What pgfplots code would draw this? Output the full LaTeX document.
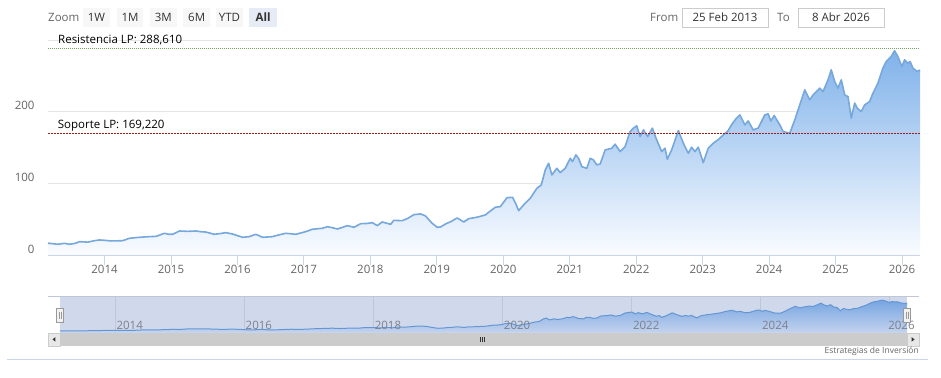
\documentclass[border=0pt]{standalone}
\usepackage{pgfplots}
\pgfplotsset{compat=1.18}
\usepackage{pgfplotstable}
\usepackage{fontspec}
\setmainfont{Open Sans}
\definecolor{lbl}{RGB}{102,102,102}
\definecolor{txt}{RGB}{51,51,51}
\definecolor{gridc}{RGB}{230,230,230}
\definecolor{axisln}{RGB}{204,214,235}
\definecolor{serline}{RGB}{118,168,220}
\definecolor{areatop}{RGB}{128,178,234}
\definecolor{areabot}{RGB}{250,252,255}
\definecolor{resist}{RGB}{120,160,100}
\definecolor{support}{RGB}{165,25,25}
\definecolor{mask}{RGB}{208,217,236}
\definecolor{navline}{RGB}{100,150,212}
\definecolor{navtop}{RGB}{118,165,225}
\definecolor{navbot}{RGB}{196,211,238}
\definecolor{navgrid}{RGB}{190,198,216}
\definecolor{navlbl}{RGB}{125,128,140}
\definecolor{btn}{RGB}{247,247,247}
\definecolor{btnsel}{RGB}{230,235,245}
\definecolor{scroll}{RGB}{204,204,204}
\definecolor{scrollbtn}{RGB}{232,232,232}
\definecolor{handle}{RGB}{242,242,242}
\definecolor{handleb}{RGB}{153,153,153}

\pgfplotstableread{
x y
2013.15 16.5
2013.30 15.0
2013.40 16.3
2013.47 15.0
2013.55 16.0
2013.625 18.6
2013.75 18.0
2013.85 20.0
2013.925 21.0
2014.0 20.5
2014.101 19.6
2014.2 19.8
2014.275 20.0
2014.375 23.3
2014.5 24.5
2014.65 25.5
2014.776 26.0
2014.85 28.5
2014.901 30.3
2014.96 29.0
2015.026 28.9
2015.126 33.5
2015.25 33.0
2015.377 33.5
2015.45 32.5
2015.527 32.0
2015.652 28.9
2015.75 30.0
2015.827 31.2
2015.926 29.3
2016.0 27.0
2016.077 24.7
2016.177 25.6
2016.278 28.9
2016.377 24.7
2016.527 25.6
2016.6 27.5
2016.728 30.3
2016.878 28.9
2017.029 32.6
2017.128 35.9
2017.278 37.3
2017.353 39.5
2017.428 38.1
2017.503 36.3
2017.58 38.5
2017.653 41.0
2017.754 38.7
2017.854 43.7
2017.95 44.0
2018.029 45.1
2018.104 41.0
2018.179 46.1
2018.305 42.8
2018.354 48.4
2018.479 47.9
2018.56 51.0
2018.655 56.3
2018.755 57.3
2018.830 54.5
2018.929 44.3
2019.005 38.7
2019.056 39.1
2019.131 43.3
2019.22 47.0
2019.305 51.7
2019.405 46.1
2019.480 50.7
2019.605 52.7
2019.731 55.9
2019.80 61.0
2019.881 66.6
2019.956 67.5
2020.056 80.0
2020.14 80.5
2020.186 72.0
2020.231 61.9
2020.306 69.8
2020.407 79.2
2020.506 93.2
2020.572 97.8
2020.632 118.7
2020.682 128.0
2020.731 111.7
2020.806 121.0
2020.857 115.0
2020.932 121.0
2021.008 135.0
2021.042 130.3
2021.092 139.7
2021.132 135.0
2021.182 123.3
2021.257 121.0
2021.308 135.0
2021.357 132.7
2021.407 125.7
2021.458 127.1
2021.533 146.6
2021.632 149.0
2021.683 154.6
2021.758 144.3
2021.833 151.3
2021.908 172.2
2021.958 177.0
2022.008 180.2
2022.059 165.2
2022.108 174.6
2022.173 165.2
2022.243 177.0
2022.308 160.6
2022.383 144.3
2022.434 149.0
2022.468 133.7
2022.533 146.6
2022.634 173.6
2022.709 156.0
2022.784 142.0
2022.833 150.4
2022.884 144.3
2022.934 150.4
2023.009 128.9
2023.084 149.0
2023.159 156.0
2023.234 161.0
2023.284 165.2
2023.384 173.6
2023.434 181.6
2023.50 190.0
2023.560 195.5
2023.635 181.6
2023.685 187.0
2023.760 174.6
2023.835 177.0
2023.935 195.5
2023.985 197.0
2024.026 187.0
2024.075 194.6
2024.161 181.6
2024.210 172.2
2024.311 170.0
2024.386 188.5
2024.461 209.5
2024.536 230.4
2024.611 216.5
2024.661 223.5
2024.761 232.8
2024.811 228.0
2024.886 244.4
2024.935 258.4
2024.986 242.0
2025.036 232.8
2025.086 244.4
2025.137 223.5
2025.186 221.0
2025.236 191.0
2025.287 211.9
2025.326 204.9
2025.386 200.1
2025.437 209.5
2025.512 214.1
2025.562 225.8
2025.637 239.8
2025.712 260.8
2025.761 270.0
2025.836 277.0
2025.887 285.0
2025.937 277.0
2025.997 263.0
2026.038 272.3
2026.087 267.7
2026.122 270.0
2026.162 260.8
2026.227 256.0
2026.27 258.0
}\prices

\begin{document}
\begin{tikzpicture}[x=1pt,y=1pt]
\fill[white] (0,0) rectangle (941,-377);

% range selector
\node[anchor=west, text=lbl, font=\fontsize{11.5}{13}\selectfont, inner sep=0] at (48,-17.5) {Zoom};
\foreach \a/\b/\t in {83/110/1W, 116.7/143.3/1M, 150/176.7/3M, 183.3/210/6M, 216/243/YTD} {
  \fill[btn] (\a,-8.3) rectangle (\b,-26.7);
  \node[text=txt, font=\fontsize{11.5}{13}\selectfont, inner sep=0] at ({(\a+\b)/2},-17.5) {\t};
}
\fill[btnsel] (249.3,-8.3) rectangle (277,-26.7);
\node[text=txt, font=\fontsize{11.5}{13}\selectfont\bfseries, inner sep=0] at (263.2,-17.5) {All};

\node[anchor=west, text=lbl, font=\fontsize{11.5}{13}\selectfont, inner sep=0] at (650,-17.5) {From};
\draw[scroll, fill=white] (681.7,-8.3) rectangle (768.3,-27.3);
\node[text=txt, font=\fontsize{11.5}{13}\selectfont, inner sep=0] at (725,-17.5) {25 Feb 2013};
\node[anchor=west, text=lbl, font=\fontsize{11.5}{13}\selectfont, inner sep=0] at (777,-17.5) {To};
\draw[scroll, fill=white] (798,-8.3) rectangle (884,-27.3);
\node[text=txt, font=\fontsize{11.5}{13}\selectfont, inner sep=0] at (841,-17.5) {8 Abr 2026};

% main chart
\begin{axis}[
  at={(48pt,-255pt)}, anchor=south west, scale only axis,
  width=872pt, height=215pt,
  xmin=2013.15, xmax=2026.27, ymin=0, ymax=300,
  axis line style={draw=none},
  ytick={0,100,200,300}, yticklabels={0,100,200,{}},
  ymajorgrids, major grid style={gridc, line width=0.8pt},
  ytick style={draw=none},
  xtick={2014,2015,...,2026},
  xtick pos=lower, ytick pos=lower,
  tick align=outside, major tick length=10pt,
  xtick style={axisln, line width=0.8pt},
  /pgf/number format/1000 sep={},
  /pgf/number format/assume math mode=true,
  tick label style={font=\fontsize{11.5}{13}\selectfont, text=lbl},
  yticklabel style={anchor=east, xshift=0pt, yshift=6pt},
  xticklabel style={yshift=3pt},
  clip=false,
]
\addplot[draw=none, top color=areatop, bottom color=areabot] table[x=x,y=y] {\prices} \closedcycle;
\addplot[serline, line width=1.6pt, line join=round] table[x=x,y=y] {\prices};
\draw[axisln, line width=1pt] (rel axis cs:0,0) -- (rel axis cs:1,0);
\addplot[resist, line width=1.1pt, dash pattern=on 1pt off 1pt] coordinates {(2013.15,288.61) (2026.27,288.61)};
\addplot[support, line width=0.9pt, dash pattern=on 2pt off 1pt] coordinates {(2013.15,169.22) (2026.27,169.22)};
\end{axis}

\node[anchor=west, text=black, font=\fontsize{11.5}{13}\selectfont, inner sep=0] at (58,-40.5) {Resistencia LP: 288,610};
\node[anchor=west, text=black, font=\fontsize{11.5}{13}\selectfont, inner sep=0] at (57.7,-125.5) {Soporte LP: 169,220};

% navigator
\draw[navgrid, line width=0.8pt] (48,-296.7) -- (919,-296.7);
\begin{axis}[
  at={(60pt,-332.7pt)}, anchor=south west, scale only axis,
  width=847pt, height=36pt,
  xmin=2013.15, xmax=2026.27, ymin=0, ymax=314,
  axis line style={draw=none},
  axis background/.style={fill=mask},
  xtick={2014,2016,...,2026}, xticklabels={},
  ytick=\empty,
  xmajorgrids, major grid style={navgrid, line width=0.6pt},
  major tick length=0pt,
  clip=false,
]
\addplot[draw=none, top color=navtop, bottom color=navbot] table[x=x,y=y] {\prices} \closedcycle;
\addplot[navline, line width=1pt] table[x=x,y=y] {\prices};
\node[anchor=west, text=navlbl, font=\fontsize{11.5}{13}\selectfont, inner sep=0] at (axis cs:2014,60) [xshift=1.5pt] {2014};
\node[anchor=west, text=navlbl, font=\fontsize{11.5}{13}\selectfont, inner sep=0] at (axis cs:2016,60) [xshift=1.5pt] {2016};
\node[anchor=west, text=navlbl, font=\fontsize{11.5}{13}\selectfont, inner sep=0] at (axis cs:2018,60) [xshift=1.5pt] {2018};
\node[anchor=west, text=navlbl, font=\fontsize{11.5}{13}\selectfont, inner sep=0] at (axis cs:2020,60) [xshift=1.5pt] {2020};
\node[anchor=west, text=navlbl, font=\fontsize{11.5}{13}\selectfont, inner sep=0] at (axis cs:2022,60) [xshift=1.5pt] {2022};
\node[anchor=west, text=navlbl, font=\fontsize{11.5}{13}\selectfont, inner sep=0] at (axis cs:2024,60) [xshift=1.5pt] {2024};
\node[anchor=west, text=navlbl, font=\fontsize{11.5}{13}\selectfont, inner sep=0] at (axis cs:2026,60) [xshift=-1.5pt] {2026};
\end{axis}

% handles
\filldraw[fill=handle, draw=handleb, line width=0.6pt] (56.5,-308) rectangle (63.5,-322);
\draw[handleb, line width=0.6pt] (59,-311.5) -- (59,-318.5) (61,-311.5) -- (61,-318.5);
\filldraw[fill=handle, draw=handleb, line width=0.6pt] (903.5,-308) rectangle (910.5,-322);
\draw[handleb, line width=0.6pt] (906,-311.5) -- (906,-318.5) (908,-311.5) -- (908,-318.5);

% scrollbar
\fill[scroll] (60,-332.7) rectangle (907,-346);
\filldraw[fill=scrollbtn, draw=scroll] (48,-332.7) rectangle (60,-346);
\filldraw[fill=scrollbtn, draw=scroll] (907,-332.7) rectangle (919,-346);
\fill[txt] (52.5,-339.4) -- (55.3,-337.2) -- (55.3,-341.6) -- cycle;
\fill[txt] (914.5,-339.4) -- (911.7,-337.2) -- (911.7,-341.6) -- cycle;
\draw[txt, line width=0.6pt] (480,-337) -- (480,-342) (482,-337) -- (482,-342) (484,-337) -- (484,-342);

% credit and border
\node[anchor=east, text=lbl, font=\fontsize{8.5}{10}\selectfont, inner sep=0] at (919,-351) {Estrategias de Inversión};
\draw[axisln, line width=0.8pt] (7,-359) -- (928,-359);

\pgfresetboundingbox
\path[use as bounding box] (0,0) rectangle (941,-377);
\end{tikzpicture}
\end{document}
